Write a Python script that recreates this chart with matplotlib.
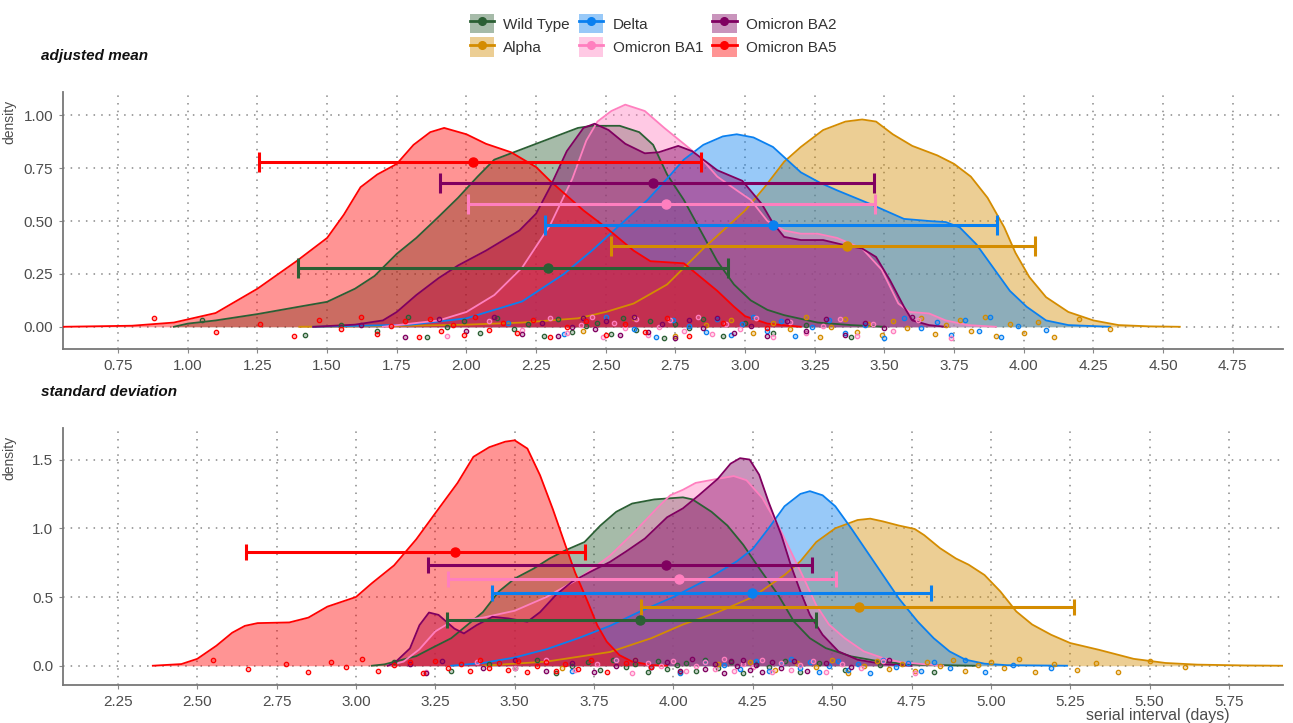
import matplotlib
matplotlib.use('agg')
from matplotlib import pyplot as plt
from matplotlib.patches import Patch
from matplotlib.lines import Line2D
from matplotlib.legend_handler import HandlerTuple

plt.rcParams['font.family'] = ['Liberation Sans', 'DejaVu Sans']

variants = ['Wild Type', 'Alpha', 'Delta', 'Omicron BA1', 'Omicron BA2', 'Omicron BA5']
colors = ['#2b5f34', '#d48c00', '#0a80f0', '#ff7fbf', '#800060', '#ff0000']

# ---- adjusted mean: density curves (x, y)
mean_x = {
    'Wild Type': [0.95, 1.0, 1.1, 1.25, 1.4, 1.5, 1.6, 1.67, 1.75, 1.82, 1.9, 1.97, 2.04, 2.1, 2.2, 2.3,
                  2.4, 2.45, 2.55, 2.62, 2.67, 2.72, 2.78, 2.84, 2.9, 2.96, 3.02, 3.08, 3.14, 3.26, 3.38, 3.5],
    'Alpha': [1.4, 1.8, 2.0, 2.2, 2.4, 2.5, 2.6, 2.72, 2.85, 3.0, 3.07, 3.14, 3.2, 3.28, 3.36, 3.42,
              3.47, 3.53, 3.6, 3.69, 3.75, 3.81, 3.87, 3.93, 3.97, 4.02, 4.08, 4.16, 4.25, 4.34, 4.45, 4.56],
    'Delta': [1.45, 1.8, 2.0, 2.2, 2.35, 2.45, 2.55, 2.65, 2.72, 2.78, 2.85, 2.92, 2.97, 3.03, 3.1, 3.15,
              3.2, 3.27, 3.33, 3.45, 3.57, 3.66, 3.72, 3.77, 3.83, 3.89, 3.95, 4.01, 4.08, 4.16, 4.31],
    'Omicron BA1': [1.7, 1.9, 2.0, 2.1, 2.2, 2.3, 2.38, 2.43, 2.47, 2.52, 2.57, 2.64, 2.71, 2.78, 2.84,
                    2.9, 2.97, 3.02, 3.08, 3.14, 3.2, 3.26, 3.33, 3.42, 3.49, 3.55, 3.59, 3.66, 3.72, 3.8, 3.9],
    'Omicron BA2': [1.45, 1.6, 1.7, 1.75, 1.82, 1.9, 1.97, 2.07, 2.19, 2.25, 2.3, 2.36, 2.42, 2.46, 2.51,
                    2.57, 2.64, 2.69, 2.76, 2.81, 2.86, 2.9, 2.99, 3.06, 3.1, 3.14, 3.2, 3.28, 3.36, 3.42,
                    3.47, 3.52, 3.57, 3.6, 3.66, 3.72],
    'Omicron BA5': [0.55, 0.8, 0.95, 1.1, 1.25, 1.39, 1.5, 1.56, 1.62, 1.68, 1.75, 1.81, 1.87, 1.92, 2.0,
                    2.07, 2.16, 2.25, 2.3, 2.42, 2.5, 2.6, 2.66, 2.72, 2.78, 2.84, 2.9, 2.96, 3.0, 3.08, 3.2],
}
mean_y = {
    'Wild Type': [0.0, 0.015, 0.03, 0.06, 0.095, 0.118, 0.18, 0.24, 0.345, 0.42, 0.52, 0.61, 0.71, 0.79, 0.84, 0.89,
                  0.94, 0.95, 0.95, 0.92, 0.86, 0.72, 0.6, 0.455, 0.31, 0.2, 0.125, 0.08, 0.055, 0.02, 0.008, 0.0],
    'Alpha': [0.0, 0.005, 0.01, 0.02, 0.04, 0.07, 0.11, 0.2, 0.37, 0.55, 0.66, 0.78, 0.85, 0.93, 0.97, 0.98,
              0.97, 0.91, 0.855, 0.81, 0.77, 0.71, 0.61, 0.47, 0.35, 0.235, 0.14, 0.07, 0.03, 0.008, 0.002, 0.0],
    'Delta': [0.0, 0.01, 0.04, 0.12, 0.25, 0.36, 0.48, 0.6, 0.7, 0.79, 0.86, 0.9, 0.91, 0.895, 0.85, 0.79,
              0.73, 0.68, 0.645, 0.58, 0.51, 0.5, 0.495, 0.47, 0.39, 0.28, 0.17, 0.095, 0.03, 0.008, 0.0],
    'Omicron BA1': [0.0, 0.03, 0.07, 0.15, 0.28, 0.48, 0.7, 0.88, 0.97, 1.02, 1.05, 1.02, 0.94, 0.865, 0.8,
                    0.71, 0.645, 0.6, 0.5, 0.455, 0.44, 0.44, 0.42, 0.37, 0.27, 0.11, 0.07, 0.063, 0.03, 0.008, 0.0],
    'Omicron BA2': [0.0, 0.01, 0.03, 0.07, 0.15, 0.23, 0.29, 0.36, 0.455, 0.535, 0.66, 0.83, 0.94, 0.96, 0.93,
                    0.865, 0.82, 0.825, 0.855, 0.83, 0.78, 0.74, 0.69, 0.58, 0.49, 0.425, 0.41, 0.41, 0.385, 0.37,
                    0.33, 0.22, 0.095, 0.03, 0.008, 0.0],
    'Omicron BA5': [0.0, 0.005, 0.02, 0.065, 0.18, 0.31, 0.42, 0.53, 0.66, 0.72, 0.77, 0.86, 0.92, 0.94, 0.91,
                    0.865, 0.825, 0.755, 0.69, 0.55, 0.47, 0.36, 0.31, 0.305, 0.3, 0.235, 0.17, 0.095, 0.05, 0.015, 0.0],
}

# ---- standard deviation: density curves
sd_x = {
    'Wild Type': [3.05, 3.09, 3.19, 3.24, 3.3, 3.35, 3.4, 3.45, 3.5, 3.56, 3.61, 3.66, 3.72, 3.77, 3.82, 3.87,
                  3.94, 4.03, 4.06, 4.12, 4.17, 4.22, 4.27, 4.33, 4.38, 4.43, 4.48, 4.56, 4.66, 4.77, 4.95],
    'Alpha': [3.4, 3.6, 3.8, 3.93, 4.03, 4.14, 4.25, 4.35, 4.4, 4.45, 4.51, 4.58, 4.62, 4.66, 4.71, 4.76,
              4.79, 4.84, 4.89, 4.93, 4.98, 5.03, 5.08, 5.13, 5.19, 5.25, 5.34, 5.45, 5.55, 5.65, 5.8, 5.92],
    'Delta': [3.3, 3.4, 3.5, 3.6, 3.7, 3.8, 3.9, 4.0, 4.1, 4.2, 4.25, 4.3, 4.35, 4.4, 4.43, 4.47, 4.51,
              4.56, 4.61, 4.66, 4.71, 4.77, 4.82, 4.87, 4.92, 4.98, 5.05, 5.24],
    'Omicron BA1': [3.1, 3.15, 3.2, 3.25, 3.3, 3.4, 3.5, 3.6, 3.7, 3.8, 3.88, 3.95, 3.99, 4.03, 4.07, 4.14,
                    4.19, 4.23, 4.28, 4.33, 4.37, 4.41, 4.45, 4.49, 4.54, 4.6, 4.66, 4.72, 4.85],
    'Omicron BA2': [3.1, 3.12, 3.17, 3.2, 3.23, 3.26, 3.31, 3.34, 3.38, 3.43, 3.48, 3.54, 3.58, 3.63, 3.68,
                    3.74, 3.8, 3.85, 3.91, 3.98, 4.03, 4.08, 4.14, 4.18, 4.21, 4.24, 4.27, 4.3, 4.34, 4.37,
                    4.4, 4.43, 4.47, 4.52, 4.58, 4.66, 4.75],
    'Omicron BA5': [2.36, 2.45, 2.5, 2.56, 2.61, 2.65, 2.69, 2.79, 2.85, 2.91, 3.0, 3.05, 3.12, 3.19, 3.25,
                    3.32, 3.37, 3.42, 3.47, 3.5, 3.54, 3.58, 3.62, 3.66, 3.69, 3.73, 3.76, 3.79, 3.83, 3.87,
                    3.93, 3.98],
}
sd_y = {
    'Wild Type': [0.0, 0.01, 0.07, 0.13, 0.2, 0.295, 0.39, 0.54, 0.634, 0.707, 0.78, 0.84, 0.9, 1.02, 1.12, 1.18,
                  1.21, 1.225, 1.21, 1.12, 1.02, 0.88, 0.71, 0.515, 0.32, 0.2, 0.128, 0.068, 0.027, 0.007, 0.0],
    'Alpha': [0.0, 0.03, 0.1, 0.2, 0.3, 0.39, 0.5, 0.66, 0.76, 0.9, 1.0, 1.06, 1.07, 1.05, 1.02, 0.995,
              0.95, 0.855, 0.78, 0.735, 0.66, 0.54, 0.395, 0.3, 0.225, 0.165, 0.116, 0.05, 0.02, 0.008, 0.002, 0.0],
    'Delta': [0.0, 0.02, 0.06, 0.12, 0.2, 0.29, 0.4, 0.5, 0.62, 0.76, 0.85, 1.0, 1.16, 1.25, 1.27, 1.24, 1.16,
              1.0, 0.83, 0.66, 0.49, 0.32, 0.2, 0.104, 0.044, 0.015, 0.004, 0.0],
    'Omicron BA1': [0.0, 0.03, 0.12, 0.25, 0.32, 0.35, 0.4, 0.5, 0.63, 0.8, 0.98, 1.15, 1.24, 1.28, 1.33, 1.36,
                    1.38, 1.35, 1.22, 1.02, 0.83, 0.64, 0.44, 0.3, 0.2, 0.104, 0.056, 0.024, 0.0],
    'Omicron BA2': [0.0, 0.017, 0.126, 0.295, 0.387, 0.37, 0.27, 0.235, 0.295, 0.356, 0.344, 0.32, 0.39, 0.515,
                    0.61, 0.685, 0.755, 0.83, 0.925, 1.08, 1.145, 1.24, 1.36, 1.47, 1.51, 1.5, 1.39, 1.19, 0.95,
                    0.73, 0.54, 0.37, 0.225, 0.104, 0.044, 0.012, 0.0],
    'Omicron BA5': [0.0, 0.012, 0.05, 0.145, 0.24, 0.29, 0.31, 0.315, 0.35, 0.43, 0.5, 0.6, 0.73, 0.92, 1.11,
                    1.33, 1.52, 1.59, 1.63, 1.64, 1.58, 1.385, 1.14, 0.875, 0.68, 0.465, 0.295, 0.175, 0.077,
                    0.03, 0.005, 0.0],
}

# ---- point estimates with intervals: (row height, estimate, lower, upper)
mean_row = [0.28, 0.38, 0.48, 0.58, 0.68, 0.78]
mean_est = [2.293, 3.366, 3.10, 2.715, 2.67, 2.024]
mean_lo = [1.394, 2.518, 2.283, 2.004, 1.905, 1.257]
mean_hi = [2.939, 4.039, 3.903, 3.467, 3.463, 2.84]

sd_row = [0.33, 0.43, 0.53, 0.63, 0.73, 0.83]
sd_est = [3.894, 4.584, 4.249, 4.019, 3.976, 3.312]
sd_lo = [3.288, 3.899, 3.429, 3.289, 3.228, 2.653]
sd_hi = [4.448, 5.261, 4.811, 4.511, 4.438, 3.721]

# ---- raw draws shown as jittered dots near zero
mean_pts = {
    'Wild Type': [1.05, 1.42, 1.55, 1.68, 1.79, 1.86, 1.93, 1.99, 2.05, 2.11, 2.17, 2.22, 2.28, 2.33, 2.38,
                  2.43, 2.47, 2.52, 2.56, 2.61, 2.66, 2.71, 2.75, 2.8, 2.85, 2.92, 3.0, 3.1, 3.22, 3.38],
    'Alpha': [2.42, 2.6, 2.75, 2.86, 2.95, 3.03, 3.1, 3.16, 3.22, 3.27, 3.31, 3.36, 3.4, 3.44, 3.49,
              3.53, 3.58, 3.63, 3.68, 3.72, 3.77, 3.81, 3.86, 3.9, 3.95, 4.0, 4.05, 4.11, 4.2, 4.31],
    'Delta': [2.15, 2.35, 2.5, 2.6, 2.68, 2.74, 2.8, 2.86, 2.9, 2.95, 2.99, 3.03, 3.08, 3.13, 3.18,
              3.24, 3.3, 3.36, 3.43, 3.5, 3.57, 3.63, 3.69, 3.74, 3.79, 3.84, 3.88, 3.92, 3.98, 4.08],
    'Omicron BA1': [1.93, 2.08, 2.2, 2.3, 2.36, 2.41, 2.45, 2.49, 2.53, 2.57, 2.61, 2.65, 2.69, 2.73, 2.78,
                    2.83, 2.88, 2.93, 2.98, 3.04, 3.1, 3.16, 3.22, 3.28, 3.34, 3.4, 3.46, 3.53, 3.62, 3.74],
    'Omicron BA2': [1.62, 1.78, 1.9, 2.0, 2.1, 2.2, 2.27, 2.33, 2.38, 2.42, 2.46, 2.5, 2.55, 2.6, 2.65,
                    2.7, 2.75, 2.8, 2.85, 2.9, 2.96, 3.02, 3.08, 3.15, 3.22, 3.29, 3.36, 3.43, 3.5, 3.6],
    'Omicron BA5': [0.88, 1.1, 1.26, 1.38, 1.47, 1.55, 1.62, 1.68, 1.73, 1.78, 1.83, 1.87, 1.91, 1.95, 1.99,
                    2.03, 2.08, 2.13, 2.18, 2.24, 2.3, 2.36, 2.43, 2.5, 2.57, 2.64, 2.72, 2.8, 2.92, 3.08],
}
sd_pts = {
    'Wild Type': [3.12, 3.3, 3.42, 3.5, 3.57, 3.63, 3.68, 3.73, 3.77, 3.81, 3.85, 3.88, 3.92, 3.95, 3.98,
                  4.01, 4.04, 4.07, 4.1, 4.14, 4.18, 4.22, 4.26, 4.3, 4.35, 4.4, 4.46, 4.54, 4.65, 4.82],
    'Alpha': [3.65, 3.88, 4.02, 4.14, 4.24, 4.32, 4.39, 4.45, 4.5, 4.55, 4.6, 4.64, 4.68, 4.72, 4.76,
              4.8, 4.84, 4.88, 4.92, 4.96, 5.0, 5.04, 5.09, 5.14, 5.2, 5.27, 5.33, 5.4, 5.5, 5.61],
    'Delta': [3.45, 3.68, 3.82, 3.93, 4.02, 4.1, 4.16, 4.21, 4.26, 4.3, 4.34, 4.37, 4.4, 4.43, 4.46,
              4.49, 4.52, 4.55, 4.58, 4.62, 4.66, 4.7, 4.74, 4.78, 4.82, 4.87, 4.92, 4.98, 5.07, 5.19],
    'Omicron BA1': [3.22, 3.38, 3.5, 3.6, 3.69, 3.76, 3.82, 3.87, 3.92, 3.96, 4.0, 4.04, 4.07, 4.1, 4.13,
                    4.16, 4.19, 4.22, 4.25, 4.28, 4.31, 4.34, 4.37, 4.4, 4.44, 4.48, 4.53, 4.59, 4.66, 4.76],
    'Omicron BA2': [3.17, 3.22, 3.27, 3.4, 3.5, 3.6, 3.68, 3.75, 3.82, 3.88, 3.93, 3.98, 4.02, 4.06, 4.1,
                    4.13, 4.16, 4.18, 4.2, 4.22, 4.24, 4.26, 4.28, 4.31, 4.34, 4.38, 4.42, 4.48, 4.56, 4.68],
    'Omicron BA5': [2.55, 2.66, 2.78, 2.85, 2.92, 2.97, 3.02, 3.07, 3.12, 3.17, 3.21, 3.25, 3.29, 3.33, 3.36,
                    3.39, 3.42, 3.45, 3.48, 3.51, 3.54, 3.57, 3.6, 3.63, 3.66, 3.7, 3.74, 3.79, 3.85, 3.93],
}
jitter = {
    'Wild Type': [0.03, -0.04, 0.01, -0.02, 0.045, -0.05, 0.0, 0.025, -0.03, 0.04, -0.01, 0.015, -0.045, 0.035,
                  -0.025, 0.005, 0.02, -0.035, 0.042, -0.015, 0.028, -0.052, 0.012, -0.006, 0.038, -0.042,
                  0.018, -0.028, 0.008, -0.048],
    'Alpha': [-0.02, 0.04, -0.045, 0.01, 0.03, -0.03, 0.02, -0.01, 0.045, -0.05, 0.0, 0.035, -0.025, 0.015,
              -0.04, 0.025, -0.005, 0.04, -0.035, 0.008, 0.03, -0.018, 0.048, -0.042, 0.012, -0.028, 0.022,
              -0.048, 0.036, -0.012],
    'Delta': [0.02, -0.035, 0.045, -0.01, -0.05, 0.03, 0.005, -0.025, 0.038, -0.04, 0.015, 0.048, -0.018,
              0.026, -0.045, 0.0, 0.034, -0.03, 0.01, -0.052, 0.042, -0.008, 0.022, -0.038, 0.03, -0.02, 0.044,
              -0.046, 0.006, -0.015],
    'Omicron BA1': [-0.045, 0.025, -0.015, 0.04, -0.03, 0.01, 0.045, -0.05, 0.02, -0.005, 0.035, -0.04, 0.0,
                    0.03, -0.022, 0.048, -0.035, 0.015, -0.01, 0.04, -0.048, 0.022, -0.028, 0.006, 0.038,
                    -0.042, 0.012, -0.018, 0.032, -0.052],
    'Omicron BA2': [0.01, -0.05, 0.035, -0.02, 0.045, -0.035, 0.02, -0.045, 0.0, 0.04, -0.012, 0.028, -0.04,
                    0.048, -0.025, 0.015, -0.052, 0.032, -0.005, 0.042, -0.03, 0.005, -0.045, 0.025, -0.018,
                    0.038, -0.038, 0.018, -0.008, 0.044],
    'Omicron BA5': [0.04, -0.025, 0.015, -0.045, 0.03, -0.01, 0.048, -0.035, 0.005, 0.025, -0.05, 0.038,
                    -0.02, 0.01, -0.04, 0.044, -0.015, 0.02, -0.03, 0.034, -0.048, 0.0, 0.028, -0.038, 0.012,
                    -0.024, 0.042, -0.044, 0.018, -0.006],
}

text_col = '#4d4d4d'

fig = plt.figure(figsize=(12.93, 7.23), dpi=100)
ax_top = fig.add_axes([0.0487, 0.5173, 0.9435, 0.3555])
ax_bot = fig.add_axes([0.0487, 0.0526, 0.9435, 0.3555])


def draw_panel(ax, cx, cy, pts, row, est, lo, hi, capsize):
    for v, c in zip(variants, colors):
        ax.fill_between(cx[v], 0, cy[v], color=c, alpha=0.42, lw=0, zorder=2)
        ax.plot(cx[v], cy[v], color=c, lw=1.3, zorder=3)
    for v, c in zip(variants, colors):
        face = matplotlib.colors.to_rgba(c, 0.3)
        ax.scatter(pts[v], jitter[v], s=10, facecolor=face, edgecolor=c, lw=0.9, zorder=4)
    for i, c in enumerate(colors):
        ax.errorbar(est[i], row[i], xerr=[[est[i] - lo[i]], [hi[i] - est[i]]], fmt='o', color=c,
                    ms=6.5, elinewidth=2.2, capsize=capsize, capthick=2.2, zorder=5)
    for s in ['top', 'right']:
        ax.spines[s].set_visible(False)
    for s in ['left', 'bottom']:
        ax.spines[s].set_color('#777777')
        ax.spines[s].set_linewidth(1.3)
    ax.grid(True, color='#888888', lw=1.1, linestyle=(0, (1, 4)), zorder=0)
    ax.set_axisbelow(True)
    ax.tick_params(length=3, width=0.8, color='#888888', pad=4, labelsize=11, labelcolor=text_col)
    ax.set_ylabel('density', color=text_col, fontsize=10, loc='top')
    ax.yaxis.set_label_coords(-0.038, 0.97)


draw_panel(ax_top, mean_x, mean_y, mean_pts, mean_row, mean_est, mean_lo, mean_hi, 7)
ax_top.set_xlim(0.552, 4.93)
ax_top.set_ylim(-0.105, 1.11)
ax_top.set_xticks([0.75 + 0.25 * i for i in range(17)])
ax_top.set_yticks([0.0, 0.25, 0.5, 0.75, 1.0])
ax_top.yaxis.set_major_formatter(matplotlib.ticker.FormatStrFormatter('%.2f'))
ax_top.xaxis.set_major_formatter(matplotlib.ticker.FormatStrFormatter('%.2f'))

draw_panel(ax_bot, sd_x, sd_y, sd_pts, sd_row, sd_est, sd_lo, sd_hi, 6)
ax_bot.set_xlim(2.077, 5.92)
ax_bot.set_ylim(-0.14, 1.73)
ax_bot.set_xticks([2.25 + 0.25 * i for i in range(15)])
ax_bot.set_yticks([0.0, 0.5, 1.0, 1.5])
ax_bot.yaxis.set_major_formatter(matplotlib.ticker.FormatStrFormatter('%.1f'))
ax_bot.xaxis.set_major_formatter(matplotlib.ticker.FormatStrFormatter('%.2f'))

fig.text(0.032, 0.917, 'adjusted mean', fontsize=11, fontweight='bold', style='italic', color='#111111')
fig.text(0.032, 0.452, 'standard deviation', fontsize=11, fontweight='bold', style='italic', color='#111111')
fig.text(0.951, 0.0, 'serial interval (days)', fontsize=11.5, color=text_col, ha='right', va='bottom')

handles = []
for c in colors:
    handles.append((Patch(facecolor=c, alpha=0.42, edgecolor='none'),
                    Line2D([], [], color=c, lw=2, marker='o', ms=5.5)))
fig.legend(handles, variants, ncol=3, loc='upper center', bbox_to_anchor=(0.505, 1.0), frameon=False,
           fontsize=11, labelcolor='#333333', handlelength=1.6, handleheight=1.6, columnspacing=0.6,
           handletextpad=0.6, labelspacing=0.25, handler_map={tuple: HandlerTuple(ndivide=1, pad=0)})

fig.savefig('out.png', dpi=100)
